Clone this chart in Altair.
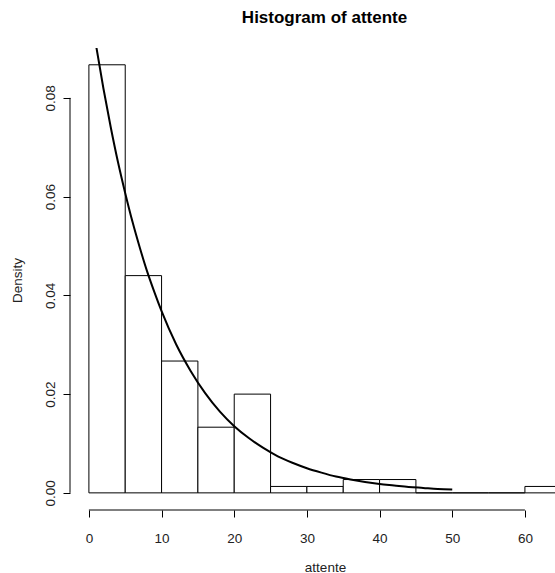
import altair as alt
import pandas as pd

# Histogram bins (attente) and densities
bin_start = [0, 5, 10, 15, 20, 25, 30, 35, 40, 45, 50, 55, 60]
bin_end = [5, 10, 15, 20, 25, 30, 35, 40, 45, 50, 55, 60, 65]
density = [0.0867, 0.0440, 0.0267, 0.0133, 0.0200, 0.0013, 0.0013,
           0.0027, 0.0027, 0.0, 0.0, 0.0, 0.0013]

# Overlaid density curve
curve_x = [1, 2, 3, 4, 5, 6, 7, 8, 9, 10, 12, 14, 16, 18, 20, 22, 24, 26,
           28, 30, 32, 34, 36, 38, 40, 42, 44, 46, 48, 50]
curve_y = [0.0905, 0.0819, 0.0741, 0.0670, 0.0607, 0.0549, 0.0497, 0.0449,
           0.0407, 0.0368, 0.0301, 0.0247, 0.0202, 0.0165, 0.0135, 0.0111,
           0.0091, 0.0074, 0.0061, 0.0050, 0.0041, 0.0033, 0.0027, 0.0022,
           0.0018, 0.0015, 0.0012, 0.0010, 0.0008, 0.0007]

x_ticks = [0, 10, 20, 30, 40, 50, 60]
y_ticks = [0.00, 0.02, 0.04, 0.06, 0.08]

X_DOMAIN = [-2.6, 64.14]
Y_DOMAIN = [-0.00347, 0.0901]

FONT = "Liberation Sans"

bars_df = pd.DataFrame({"start": bin_start, "end": bin_end, "density": density})
curve_df = pd.DataFrame({"x": curve_x, "y": curve_y})
xaxis_df = pd.DataFrame({"x": [x_ticks[0]], "x2": [x_ticks[-1]]})
yaxis_df = pd.DataFrame({"y": [y_ticks[0]], "y2": [y_ticks[-1]]})

xscale = alt.Scale(domain=X_DOMAIN, nice=False, zero=False)
yscale = alt.Scale(domain=Y_DOMAIN, nice=False, zero=False)

axis_x = alt.Axis(
    values=x_ticks, domain=False, grid=False, tickSize=7, tickColor="black",
    tickWidth=1, labelFont=FONT, labelFontSize=13.5, labelColor="#222222",
    labelPadding=25, labelBaseline="alphabetic", labelFlush=False,
    labelOverlap=False, title="attente", titleFont=FONT, titleFontSize=13.5,
    titleFontWeight="normal", titleColor="#222222", titleX=255, titleY=61,
    titleAlign="center", titleBaseline="alphabetic",
)
axis_y = alt.Axis(
    values=y_ticks, format=".2f", domain=False, grid=False, tickSize=7,
    tickColor="black", tickWidth=1, labelFont=FONT, labelFontSize=13.5,
    labelColor="#222222", labelAngle=270, labelAlign="center",
    labelBaseline="alphabetic", labelPadding=9, labelFlush=False,
    labelOverlap=False, title="Density", titleFont=FONT, titleFontSize=13.5,
    titleFontWeight="normal", titleColor="#222222", titleAngle=270,
    titleX=-48.5, titleY=232, titleAlign="center", titleBaseline="alphabetic",
)

bars = alt.Chart(bars_df).mark_rect(
    fill="white", stroke="black", strokeWidth=1, clip=True
).encode(
    x=alt.X("start:Q", scale=xscale, axis=axis_x),
    x2="end:Q",
    y=alt.Y("density:Q", scale=yscale, axis=axis_y),
    y2=alt.datum(0),
)

curve = alt.Chart(curve_df).mark_line(
    color="black", strokeWidth=2, clip=True, interpolate="monotone"
).encode(
    x=alt.X("x:Q", scale=xscale, axis=axis_x),
    y=alt.Y("y:Q", scale=yscale, axis=axis_y),
)

x_line = alt.Chart(xaxis_df).mark_rule(color="black", strokeWidth=1).encode(
    x=alt.X("x:Q", scale=xscale, axis=axis_x),
    x2="x2:Q",
    y=alt.value(462),
)

y_line = alt.Chart(yaxis_df).mark_rule(color="black", strokeWidth=1).encode(
    y=alt.Y("y:Q", scale=yscale, axis=axis_y),
    y2="y2:Q",
    x=alt.value(0),
)

chart = alt.layer(bars, curve, x_line, y_line).properties(
    width=485,
    height=462,
    autosize=alt.AutoSizeParams(type="none"),
    padding={"left": 70, "top": 48, "right": 0, "bottom": 63},
    background="white",
    title=alt.TitleParams(
        "Histogram of attente", font=FONT, fontSize=17, fontWeight="bold",
        color="black", anchor="middle", dx=12, offset=8,
        baseline="alphabetic",
    ),
).configure_view(stroke=None)

chart.save("out.html", embed_options={"renderer": "svg", "actions": False})
